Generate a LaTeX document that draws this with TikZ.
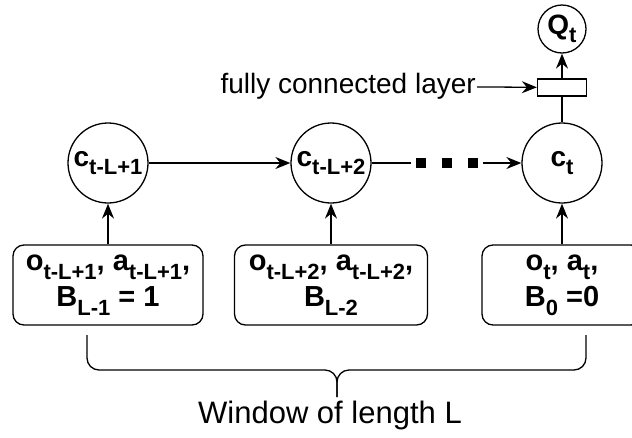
\documentclass[tikz,border=0pt]{standalone}
\usepackage{fontspec}
\setmainfont{Liberation Sans}
\usetikzlibrary{arrows.meta}

% lowered, smaller subscript text
\newcommand\lowsub[1]{\raisebox{-0.3em}{\fontsize{22}{22}\selectfont #1}}

\begin{document}
\begin{tikzpicture}[x=1pt,y=-1pt,
  thin line/.style={line width=1.3pt},
  arr/.style={line width=1.3pt, -{Stealth[length=15pt,width=12pt,inset=5pt]}},
  cell/.style={circle, draw, line width=1.3pt, minimum size=80pt, inner sep=0pt,
    font=\bfseries\fontsize{28}{32}\selectfont},
  qcell/.style={circle, draw, line width=1.3pt, minimum size=48pt, inner sep=0pt,
    font=\bfseries\fontsize{28}{32}\selectfont},
  inbox/.style={draw, line width=1.3pt, rounded corners=11pt, minimum height=80pt,
    inner sep=0pt, align=center, font=\bfseries\fontsize{29}{36}\selectfont},
  fcbox/.style={draw, line width=1.3pt, minimum width=49pt, minimum height=17pt, inner sep=0pt},
  plain/.style={inner sep=1pt}]
\useasboundingbox (0,0) rectangle (632,437);
\fill[white] (0,0) rectangle (632,437);

% recurrent cells
\node[cell] (c1) at (108,163) {\makebox[0pt]{c\lowsub{t-L+1}}};
\node[cell] (c2) at (331,163) {\makebox[0pt]{c\lowsub{t-L+2}}};
\node[cell] (ct) at (562,163) {\makebox[0pt]{c\lowsub{t}}};

% output head
\node[fcbox] (fc) at (562,87.5) {};
\node[qcell] (q) at (562,29) {\makebox[0pt]{Q\lowsub{t}}};
\node[plain, anchor=east, font=\fontsize{28}{32}\selectfont] (fclab) at (477,86) {fully connected layer};

% inputs
\node[inbox, minimum width=190pt] (b1) at (108,285)
  {o\lowsub{t-L+1}, a\lowsub{t-L+1},\\ B\lowsub{L-1} = 1};
\node[inbox, minimum width=193pt] (b2) at (331,285)
  {o\lowsub{t-L+2}, a\lowsub{t-L+2},\\ B\lowsub{L-2}};
\node[inbox, minimum width=160pt] (b3) at (562,285)
  {o\lowsub{t}, a\lowsub{t},\\ B\lowsub{0} =0};

% connectors
\draw[arr] (b1.north) -- (c1.south);
\draw[arr] (b2.north) -- (c2.south);
\draw[arr] (b3.north) -- (ct.south);
\draw[arr] (c1) -- (c2);
\draw[arr] (c2) -- node[fill=white, minimum width=72pt, minimum height=12pt, inner sep=0pt] (dots) {} (ct);
\foreach \dx in {-26,0,26}
  \fill ([shift={(\dx-5,-5)}]dots.center) rectangle ++(10,10);
\draw[thin line] (ct.north) -- (fc.south);
\draw[arr] (fc.north) -- (q.south);
\draw[arr] (fclab) -- (fc);

% window brace
\draw[thin line, rounded corners=12pt] (87,335) -- (87,370) -- (337,370) -- (337,397);
\draw[thin line, rounded corners=12pt] (586,335) -- (586,370) -- (337,370) -- (337,397);
\node[plain, font=\fontsize{31}{35}\selectfont] (win) at (330,415) {Window of length L};
\end{tikzpicture}
\end{document}
